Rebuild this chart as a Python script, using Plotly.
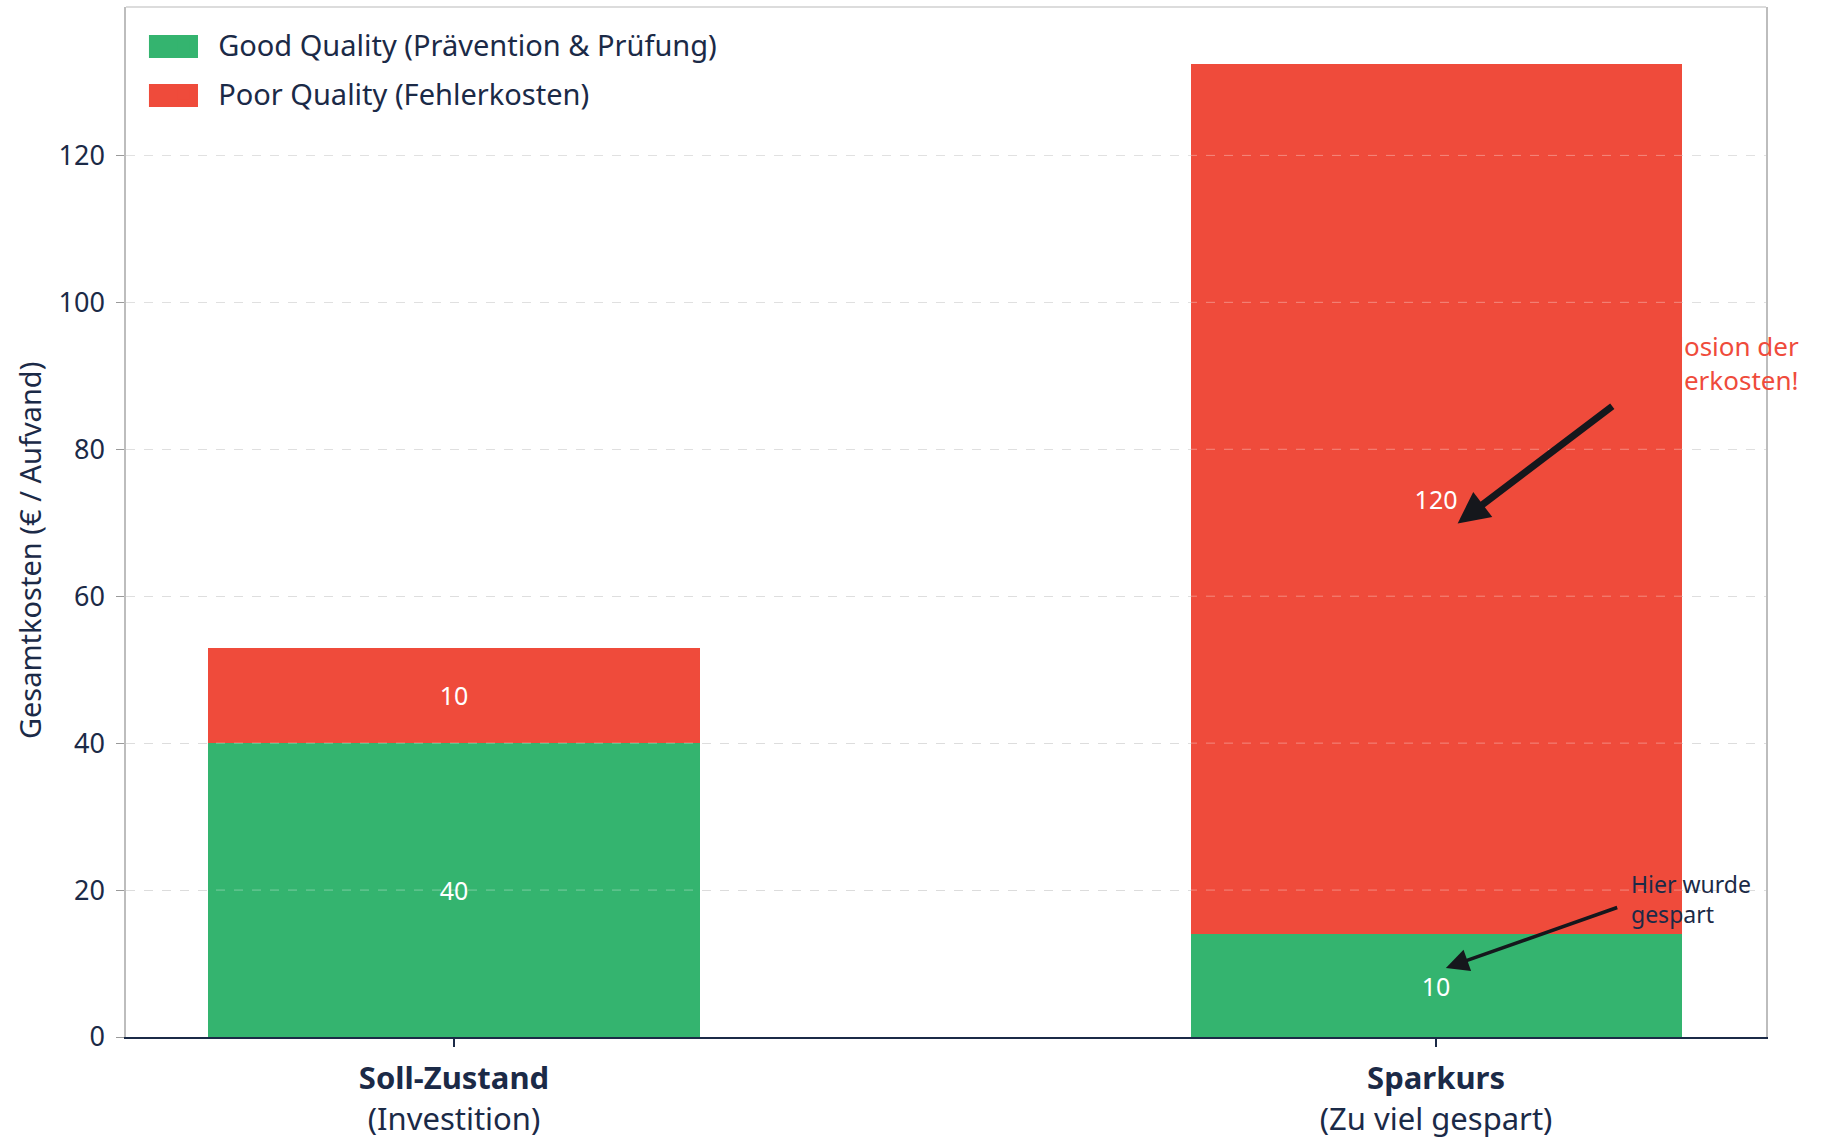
import plotly.graph_objects as go

categories = ["<b>Soll-Zustand</b><br>(Investition)", "<b>Sparkurs</b><br>(Zu viel gespart)"]
good_values = [40, 14]
poor_values = [13, 118.5]
good_labels = ["40", "10"]
poor_labels = ["10", "120"]
y_ticks = [0, 20, 40, 60, 80, 100, 120]

GREEN = "#34b46f"
RED = "#ef4b3b"
NAVY = "#1b2a47"
FONT = "Noto Sans"

fig = go.Figure()
fig.add_trace(go.Bar(
    x=categories, y=good_values, name="Good Quality (Prävention & Prüfung)",
    legendgroup="good",
    marker=dict(color=GREEN, line=dict(width=0)), width=0.5,
    text=good_labels, textposition="inside", insidetextanchor="middle",
    textfont=dict(color="white", size=25, family=FONT), hoverinfo="skip",
))
fig.add_trace(go.Bar(
    x=categories, y=poor_values, name="Poor Quality (Fehlerkosten)",
    legendgroup="poor",
    marker=dict(color=RED, line=dict(width=0)), width=0.5,
    text=poor_labels, textposition="inside", insidetextanchor="middle",
    textfont=dict(color="white", size=25, family=FONT), hoverinfo="skip",
))

# dashed grid lines drawn faintly over the bars
for t in y_ticks[1:]:
    fig.add_shape(type="line", xref="paper", yref="y", x0=0, x1=1, y0=t, y1=t,
                  layer="above", line=dict(color="rgba(255,255,255,0.35)", width=1, dash="dash"))

# large legend swatches
fig.add_shape(type="rect", xref="paper", yref="paper", x0=0.014, x1=0.0439, y0=0.9505, y1=0.9728,
              fillcolor=GREEN, line=dict(width=0), layer="above")
fig.add_shape(type="rect", xref="paper", yref="paper", x0=0.014, x1=0.0439, y0=0.9029, y1=0.9252,
              fillcolor=RED, line=dict(width=0), layer="above")

fig.add_annotation(x=1.022, y=69.9, ax=1.181, ay=86.0, xref="x", yref="y",
                   axref="x", ayref="y", text="", showarrow=True,
                   arrowhead=2, arrowsize=0.9, arrowwidth=7, arrowcolor="#15171c")
fig.add_annotation(x=1.199, y=91.7, xref="x", yref="y", text="Explosion der<br>Fehlerkosten!",
                   showarrow=False, xanchor="left", yanchor="middle", align="left",
                   font=dict(color=RED, size=26, family=FONT))
fig.add_annotation(x=1.010, y=9.4, ax=1.186, ay=17.7, xref="x", yref="y",
                   axref="x", ayref="y", text="", showarrow=True,
                   arrowhead=2, arrowsize=1.3, arrowwidth=3.5, arrowcolor="#15171c")
fig.add_annotation(x=1.196, y=18.8, xref="x", yref="y", text="Hier wurde<br>gespart",
                   showarrow=False, xanchor="left", yanchor="middle", align="left",
                   font=dict(color=NAVY, size=23, family=FONT))
fig.add_annotation(x=-0.0591, y=0.4718, xref="paper", yref="paper",
                   text="Gesamtkosten (€ / Aufvand)", textangle=-90, showarrow=False,
                   xanchor="center", yanchor="middle",
                   font=dict(size=29, family=FONT, color=NAVY))

fig.update_layout(
    width=1829, height=1141, barmode="stack",
    margin=dict(l=126, r=63, t=7, b=104),
    paper_bgcolor="white", plot_bgcolor="white",
    font=dict(family=FONT, color=NAVY),
    legend=dict(x=0.0135, y=0.988, xanchor="left", yanchor="top",
                font=dict(size=29, family=FONT, color=NAVY),
                traceorder="grouped", tracegroupgap=8, itemwidth=60,
                bgcolor="rgba(0,0,0,0)"),
    xaxis=dict(range=[-0.334, 1.336], showgrid=False,
               showline=True, linecolor=NAVY, linewidth=2, mirror=False,
               ticks="outside", ticklen=8, tickcolor=NAVY, tickwidth=1.5,
               ticklabelstandoff=5, automargin=False,
               tickfont=dict(size=31, family=FONT, color=NAVY)),
    yaxis=dict(range=[0, 140.2], tickvals=y_ticks, showgrid=True,
               gridcolor="#d4d4d4", griddash="dash", gridwidth=1,
               showline=True, linecolor="#bdbdbd", linewidth=1.5, mirror=True,
               ticks="outside", ticklen=8, tickcolor="#9a9a9a",
               zeroline=False, ticklabelstandoff=6, automargin=False,
               tickfont=dict(size=27, family=FONT, color=NAVY)),
)
fig.add_shape(type="line", xref="paper", yref="paper", x0=0, x1=1, y0=1, y1=1,
              line=dict(color="#d0d0d0", width=1.5))

fig.write_html("out.html")
